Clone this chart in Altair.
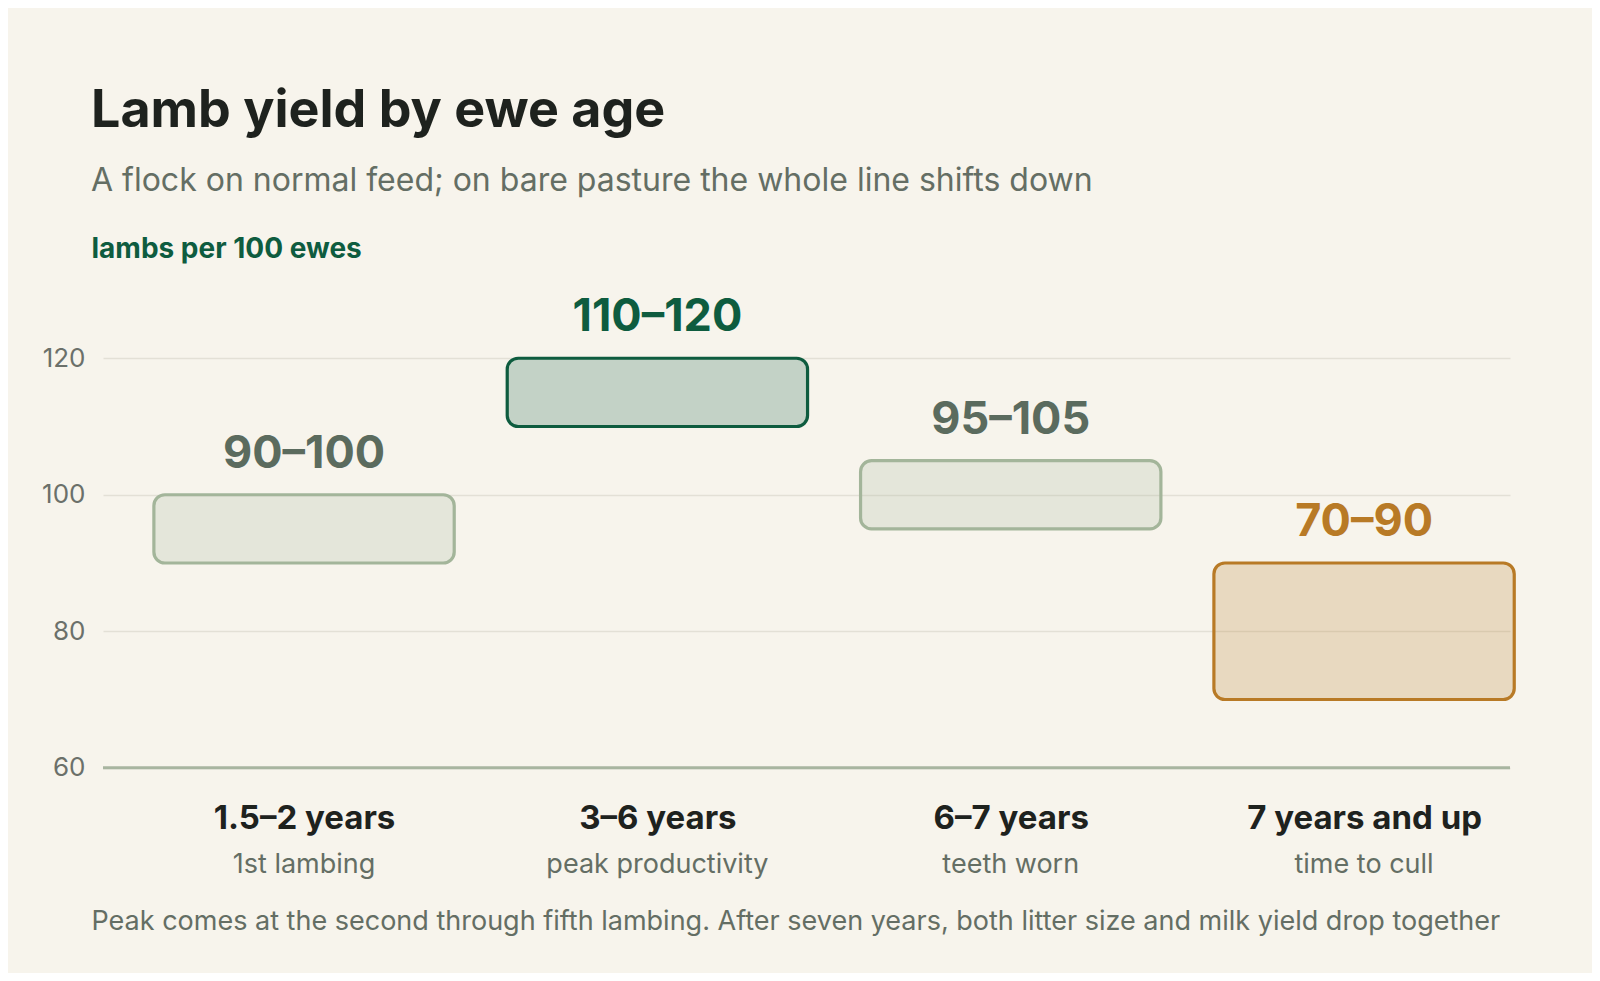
import altair as alt
import pandas as pd

ages = ["1.5–2 years", "3–6 years", "6–7 years", "7 years and up"]
notes = ["1st lambing", "peak productivity", "teeth worn", "time to cull"]
low = [90, 110, 95, 70]
high = [100, 120, 105, 90]
range_labels = ["90–100", "110–120", "95–105", "70–90"]
bar_colors = ["#A3B59A", "#0E5C3F", "#A3B59A", "#B87A26"]
label_colors = ["#5B6B5E", "#0E5C3F", "#5B6B5E", "#B87A26"]
y_ticks = [60, 80, 100, 120]

BG = "#F7F4EC"
FONT = "Inter"

df = pd.DataFrame({
    "idx": list(range(len(ages))),
    "age": ages, "note": notes, "lo": low, "hi": high,
    "label": range_labels, "color": bar_colors, "tcolor": label_colors,
})

W = 1407
H = 477.75
HALF = 0.425

x_scale = alt.Scale(domain=[-0.569, 3.413], nice=False, zero=False)
label_expr = "[" + ",".join("'" + a + "'" for a in ages) + "][datum.value]"

base = alt.Chart(df).transform_calculate(
    x0=f"datum.idx - {HALF}", x1=f"datum.idx + {HALF}"
)

bars = base.mark_rect(cornerRadius=11, strokeWidth=3.2, fillOpacity=0.22).encode(
    x=alt.X("x0:Q", scale=x_scale,
            axis=alt.Axis(values=[0, 1, 2, 3], labelExpr=label_expr,
                          title="Peak comes at the second through fifth lambing. After seven years, both litter size and milk yield drop together",
                          titleX=-12, titleY=162, titleAnchor="start", titleAlign="left",
                          titleBaseline="alphabetic", titleFont=FONT, titleFontSize=27,
                          titleFontWeight="normal", titleColor="#646E64",
                          labelAngle=0, labelFont=FONT, labelFontSize=33, labelFontWeight="bold",
                          labelColor="#1E221E", labelBaseline="alphabetic", labelPadding=61,
                          labelOverlap=False, labelLimit=0, labelFlush=False,
                          ticks=False, tickSize=0, domain=False, grid=False)),
    x2="x1:Q",
    y=alt.Y("lo:Q", scale=alt.Scale(domain=[60, 130], nice=False, zero=False),
            axis=alt.Axis(values=y_ticks, title="lambs per 100 ewes", titleAngle=0,
                          titleX=-12, titleY=-33, titleAlign="left", titleAnchor="start",
                          titleBaseline="alphabetic",
                          titleFont=FONT, titleFontSize=28, titleFontWeight="bold",
                          titleColor="#0E5C3F",
                          labelFont=FONT, labelFontSize=26, labelColor="#6B706A",
                          labelPadding=18, ticks=False, domain=False,
                          grid=True, gridColor="#E3E0D6", gridWidth=1.5)),
    y2="hi:Q",
    fill=alt.Color("color:N", scale=None),
    stroke=alt.Color("color:N", scale=None),
)

baseline = alt.Chart(pd.DataFrame({"v": [60]})).mark_rule(
    color="#A8B5A0", strokeWidth=3
).encode(y=alt.Y("v:Q"))

range_text = base.mark_text(font=FONT, fontSize=45, fontWeight="bold",
                            baseline="alphabetic", dy=-27).encode(
    x=alt.X("idx:Q"),
    y=alt.Y("hi:Q"),
    text="label:N",
    color=alt.Color("tcolor:N", scale=None),
)

note_text = base.mark_text(font=FONT, fontSize=27, baseline="alphabetic",
                           color="#646E64").encode(
    x=alt.X("idx:Q"),
    y=alt.value(583),
    text="note:N",
)

chart = alt.layer(bars, baseline, range_text, note_text).properties(
    width=W, height=H,
    background=BG,
    padding={"left": 95, "top": 282, "right": 82, "bottom": 205},
    autosize=alt.AutoSizeParams(type="none"),
    title=alt.TitleParams(
        text="Lamb yield by ewe age",
        subtitle="A flock on normal feed; on bare pasture the whole line shifts down",
        anchor="start", frame="group", dx=-12, offset=37,
        font=FONT, fontSize=52, fontWeight="bold", color="#1E221E",
        subtitleFont=FONT, subtitleFontSize=32, subtitleColor="#646E64",
        subtitlePadding=28,
    ),
).configure_view(stroke=None)

chart.save("out.html", embed_options={"renderer": "svg", "actions": False})
